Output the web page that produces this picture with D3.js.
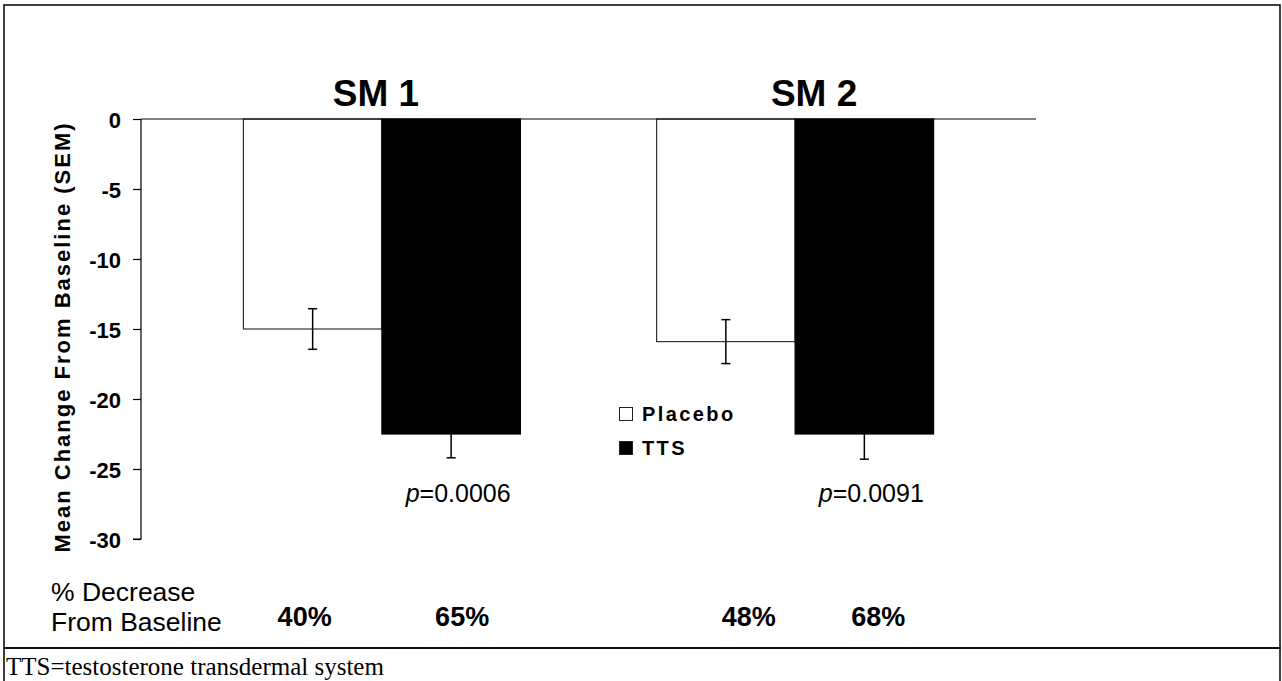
<!DOCTYPE html>
<html>
<head>
<meta charset="utf-8">
<script src="https://cdn.jsdelivr.net/npm/d3@7"></script>
<style>
  html, body { margin: 0; padding: 0; background: #fff; }
  svg { display: block; }
  text { font-family: "Liberation Sans", Arial, sans-serif; fill: #000; }
</style>
</head>
<body>
<svg id="chart" width="1282" height="681"></svg>
<script>
// ---- data ----
const categories = ["SM 1", "SM 2"];
const seriesNames = ["Placebo", "TTS"];
const placeboValues = [-15.0, -15.9];
const ttsValues = [-22.5, -22.5];
const placeboSEM = [1.45, 1.57];
const ttsSEM = [1.7, 1.8];
const pValues = ["0.0006", "0.0091"];
const placeboPctDecrease = ["40%", "48%"];
const ttsPctDecrease = ["65%", "68%"];
const yTicks = [0, -5, -10, -15, -20, -25, -30];

// ---- layout ----
const svg = d3.select("#chart");

const y = d3.scaleLinear().domain([-30, 0]).range([539, 119]);
const xGroup = d3.scalePoint().domain(categories).range([141, 1036]).padding(0.583);
const xSub = d3.scaleBand().domain(seriesNames).range([-138.5, 138.5]).paddingInner(0).paddingOuter(0);

const rows = categories.map((c, i) => ({
  cat: c, i,
  vals: [
    { s: "Placebo", v: placeboValues[i], e: placeboSEM[i], pct: placeboPctDecrease[i] },
    { s: "TTS", v: ttsValues[i], e: ttsSEM[i], pct: ttsPctDecrease[i] }
  ]
}));

// frames
svg.append("rect").attr("x", 4).attr("y", 5).attr("width", 1276).attr("height", 643)
  .attr("fill", "none").attr("stroke", "#000").attr("stroke-width", 1.5);
svg.append("rect").attr("x", 4).attr("y", 648).attr("width", 1276).attr("height", 40)
  .attr("fill", "none").attr("stroke", "#000").attr("stroke-width", 1.5);

// footnote
svg.append("text").attr("x", 6).attr("y", 675)
  .style("font-family", "'Liberation Serif', 'Times New Roman', serif")
  .style("font-size", "25px")
  .text("TTS=testosterone transdermal system");

// bars
const g = svg.append("g");
const groups = g.selectAll("g.grp").data(rows).join("g")
  .attr("class", "grp")
  .attr("transform", d => `translate(${xGroup(d.cat)},0)`);

groups.selectAll("rect.bar").data(d => d.vals).join("rect")
  .attr("class", "bar")
  .attr("x", d => xSub(d.s))
  .attr("width", xSub.bandwidth())
  .attr("y", d => y(0))
  .attr("height", d => y(d.v) - y(0))
  .attr("fill", d => d.s === "TTS" ? "#000" : "#fff")
  .attr("stroke", d => d.s === "TTS" ? "#000" : "#333")
  .attr("stroke-width", 1.2);

// error bars
const eb = groups.selectAll("g.err").data(d => d.vals).join("g").attr("class", "err")
  .attr("transform", d => `translate(${xSub(d.s) + xSub.bandwidth() / 2},0)`);
eb.append("line").attr("x1", 0).attr("x2", 0)
  .attr("y1", d => y(d.v + d.e)).attr("y2", d => y(d.v - d.e))
  .attr("stroke", "#000").attr("stroke-width", 1.5);
eb.append("line").attr("x1", -4.5).attr("x2", 4.5)
  .attr("y1", d => y(d.v + d.e)).attr("y2", d => y(d.v + d.e))
  .attr("stroke", "#000").attr("stroke-width", 1.5);
eb.append("line").attr("x1", -4.5).attr("x2", 4.5)
  .attr("y1", d => y(d.v - d.e)).attr("y2", d => y(d.v - d.e))
  .attr("stroke", "#000").attr("stroke-width", 1.5);

// zero line
svg.append("line").attr("x1", 141).attr("x2", 1036).attr("y1", y(0)).attr("y2", y(0))
  .attr("stroke", "#000").attr("stroke-width", 1.2);

// y axis
const yAxis = d3.axisLeft(y).tickValues(yTicks).tickSize(8).tickPadding(12)
  .tickFormat(d => String(d).replace("\u2212", "-"));
const ya = svg.append("g").attr("transform", "translate(141,0)").call(yAxis);
ya.select(".domain").attr("stroke", "#000").attr("stroke-width", 1.2).attr("d", `M-8,${y(-30)}H0V${y(0)}`);
ya.selectAll(".tick line").attr("stroke", "#000").attr("stroke-width", 1.2);
ya.selectAll(".tick text")
  .style("font-family", "'Liberation Sans', Arial, sans-serif")
  .style("font-size", "22px").style("font-weight", "bold").attr("dy", "0.38em");

// y axis label
svg.append("text")
  .attr("transform", `translate(70,${(y(0) + y(-30)) / 2 + 8}) rotate(-90)`)
  .attr("text-anchor", "middle")
  .style("font-size", "22px").style("font-weight", "bold").style("letter-spacing", "2px")
  .text("Mean Change From Baseline (SEM)");

// titles
const titleNudge = [-6, 19];
svg.selectAll("text.title").data(rows).join("text").attr("class", "title")
  .attr("x", d => xGroup(d.cat) + titleNudge[d.i]).attr("y", 106)
  .attr("text-anchor", "middle")
  .style("font-size", "37px").style("font-weight", "bold")
  .text(d => d.cat);

// p-values
const pt = svg.selectAll("text.pval").data(rows).join("text").attr("class", "pval")
  .attr("x", d => xGroup(d.cat) + xSub("TTS") + xSub.bandwidth() / 2 + 7).attr("y", 502)
  .attr("text-anchor", "middle")
  .style("font-size", "25px");
pt.append("tspan").style("font-style", "italic").text("p");
pt.append("tspan").text(d => "=" + pValues[d.i]);

// legend
const legend = svg.append("g");
const legendY = [407, 441];
seriesNames.forEach((s, i) => {
  legend.append("rect").attr("x", 619.5).attr("y", legendY[i] + 0.5).attr("width", 13).attr("height", 13)
    .attr("fill", s === "TTS" ? "#000" : "#fff").attr("stroke", "#222").attr("stroke-width", 1);
  legend.append("text").attr("x", 642).attr("y", legendY[i] + 14)
    .style("font-size", "20px").style("font-weight", "bold").style("letter-spacing", "2.4px")
    .text(s);
});

// % decrease row
svg.append("text").attr("x", 51).attr("y", 601).style("font-size", "26.5px").text("% Decrease");
svg.append("text").attr("x", 51).attr("y", 631).style("font-size", "26.5px").text("From Baseline");
const pctNudge = [[-8, 11], [23, 14]];
rows.forEach(r => {
  r.vals.forEach((v, j) => {
    svg.append("text")
      .attr("x", xGroup(r.cat) + xSub(v.s) + xSub.bandwidth() / 2 + pctNudge[r.i][j])
      .attr("y", 626)
      .attr("text-anchor", "middle")
      .style("font-size", "27px").style("font-weight", "bold")
      .text(v.pct);
  });
});
</script>
</body>
</html>
